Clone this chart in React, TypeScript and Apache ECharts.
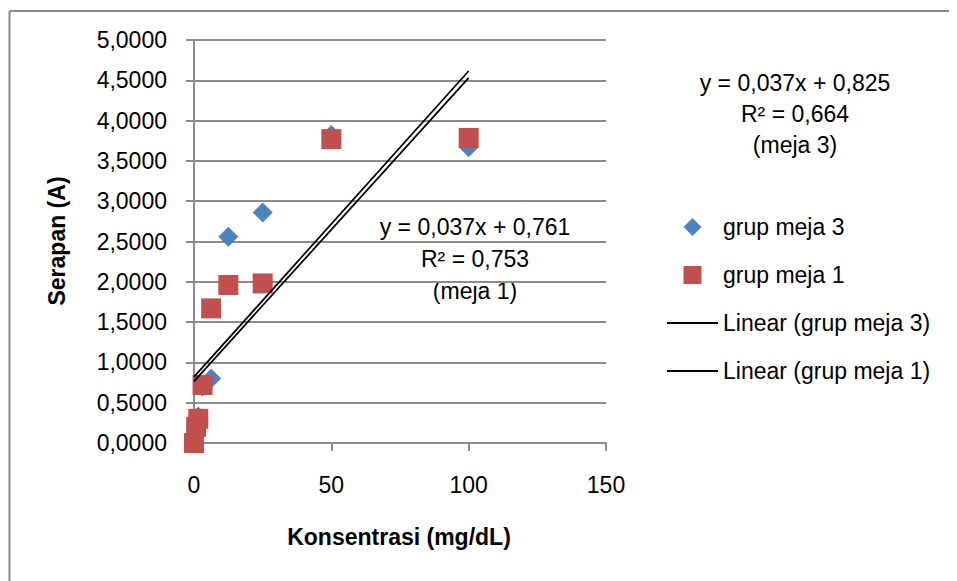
import React, { useEffect, useRef } from "react";
import * as echarts from "echarts";

const xValues = [0, 0.78, 1.5625, 3.125, 6.25, 12.5, 25, 50, 100];
const meja3Values = [0, 0.2, 0.33, 0.7, 0.8, 2.56, 2.86, 3.82, 3.67];
const meja1Values = [0, 0.2, 0.3, 0.72, 1.67, 1.96, 1.98, 3.77, 3.785];
const seriesNames = ["grup meja 3", "grup meja 1", "Linear (grup meja 3)", "Linear (grup meja 1)"];
const xTicks = { min: 0, max: 150, interval: 50 };
const yTicks = { min: 0, max: 5, interval: 0.5 };
const eqMeja3 = ["y = 0,037x + 0,825", "R² = 0,664", "(meja 3)"];
const eqMeja1 = ["y = 0,037x + 0,761", "R² = 0,753", "(meja 1)"];
const xTitle = "Konsentrasi (mg/dL)";
const yTitle = "Serapan (A)";

function regression(xs: number[], ys: number[]) {
  const n = xs.length;
  const mx = xs.reduce((a, b) => a + b, 0) / n;
  const my = ys.reduce((a, b) => a + b, 0) / n;
  let sxy = 0;
  let sxx = 0;
  for (let i = 0; i < n; i++) {
    sxy += (xs[i] - mx) * (ys[i] - my);
    sxx += (xs[i] - mx) * (xs[i] - mx);
  }
  const slope = sxy / sxx;
  return { slope, intercept: my - slope * mx };
}

function trendData(xs: number[], ys: number[]) {
  const { slope, intercept } = regression(xs, ys);
  const x0 = Math.min(...xs);
  const x1 = Math.max(...xs);
  return [
    [x0, intercept + slope * x0],
    [x1, intercept + slope * x1],
  ];
}

const FONT = "'Liberation Sans', Arial, sans-serif";
const GRAY = "#8c8c8c";
const LINE_ICON = "path://M0,0 H51 V2 H0 Z";
const DIAMOND_ICON = "path://M9,0 L18,9 L9,18 L0,9 Z";
const SQUARE_ICON = "path://M0,0 H18 V18 H0 Z";

export default function App() {
  const ref = useRef<HTMLDivElement>(null);
  useEffect(() => {
    if (!ref.current) return;
    document.documentElement.style.overflow = "hidden";
    document.body.style.overflow = "hidden";
    const chart = echarts.init(ref.current, undefined, { renderer: "svg" });
    const pts3 = xValues.map((x, i) => [x, meja3Values[i]]);
    const pts1 = xValues.map((x, i) => [x, meja1Values[i]]);
    chart.setOption({
      animation: false,
      backgroundColor: "#ffffff",
      textStyle: { fontFamily: FONT, color: "#000" },
      grid: { left: 186, right: 351, top: 32, bottom: 138, containLabel: false },
      xAxis: {
        type: "value",
        min: xTicks.min,
        max: xTicks.max,
        interval: xTicks.interval,
        axisLine: { show: true, lineStyle: { color: GRAY, width: 2 } },
        axisTick: { show: true, length: 8, lineStyle: { color: GRAY, width: 2 } },
        splitLine: { show: false },
        axisLabel: { fontSize: 23, color: "#000", fontFamily: FONT, margin: 30 },
      },
      yAxis: {
        type: "value",
        min: yTicks.min,
        max: yTicks.max,
        interval: yTicks.interval,
        axisLine: { show: true, lineStyle: { color: GRAY, width: 2 } },
        axisTick: { show: true, length: 8, lineStyle: { color: GRAY, width: 2 } },
        splitLine: { show: true, lineStyle: { color: GRAY, width: 2 } },
        axisLabel: {
          fontSize: 23,
          color: "#000",
          fontFamily: FONT,
          margin: 27,
          formatter: (v: number) => v.toFixed(4).replace(".", ","),
        },
      },
      legend: {
        orient: "vertical",
        left: 654,
        top: 202,
        padding: 5,
        itemWidth: 51,
        itemHeight: 18,
        itemGap: 24,
        symbolKeepAspect: true,
        textStyle: { fontSize: 23, color: "#000", fontFamily: FONT, lineHeight: 24 },
        data: [
          { name: seriesNames[0], icon: DIAMOND_ICON },
          { name: seriesNames[1], icon: SQUARE_ICON },
          { name: seriesNames[2], icon: LINE_ICON },
          { name: seriesNames[3], icon: LINE_ICON },
        ],
      },
      series: [
        {
          name: seriesNames[0],
          type: "scatter",
          symbol: "diamond",
          symbolSize: 20,
          itemStyle: { color: "#4F81BD", opacity: 1 },
          data: pts3,
        },
        {
          name: seriesNames[1],
          type: "scatter",
          symbol: "rect",
          symbolSize: 20,
          itemStyle: { color: "#C0504D", opacity: 1 },
          data: pts1,
        },
        {
          name: seriesNames[2],
          type: "line",
          symbol: "none",
          lineStyle: { color: "#000", width: 1.75 },
          itemStyle: { color: "#000" },
          data: trendData(xValues, meja3Values),
        },
        {
          name: seriesNames[3],
          type: "line",
          symbol: "none",
          lineStyle: { color: "#000", width: 1.75 },
          itemStyle: { color: "#000" },
          data: trendData(xValues, meja1Values),
        },
      ],
      graphic: [
        {
          type: "rect",
          z: 100,
          shape: { x: 930, y: 0, width: 40, height: 600 },
          style: { fill: "#ffffff" },
          silent: true,
        },
        {
          type: "line",
          z: 101,
          shape: { x1: 1.5, y1: 3, x2: 960, y2: 3 },
          style: { stroke: "#8a8a8a", lineWidth: 2 },
          silent: true,
        },
        {
          type: "line",
          z: 101,
          shape: { x1: 1.5, y1: 3, x2: 1.5, y2: 600 },
          style: { stroke: "#8a8a8a", lineWidth: 2 },
          silent: true,
        },
        {
          type: "text",
          x: 391,
          y: 529,
          style: {
            text: xTitle,
            font: `bold 23px ${FONT}`,
            fill: "#000",
            textAlign: "center",
            textVerticalAlign: "middle",
          },
        },
        {
          type: "text",
          x: 49,
          y: 233,
          rotation: Math.PI / 2,
          style: {
            text: yTitle,
            font: `bold 23px ${FONT}`,
            fill: "#000",
            textAlign: "center",
            textVerticalAlign: "middle",
          },
        },
        {
          type: "text",
          x: 787,
          y: 59,
          style: {
            text: eqMeja3.join("\n"),
            font: `23px ${FONT}`,
            lineHeight: 31,
            fill: "#000",
            textAlign: "center",
            textVerticalAlign: "top",
          },
        },
        {
          type: "text",
          x: 467,
          y: 203,
          style: {
            text: eqMeja1.join("\n"),
            font: `23px ${FONT}`,
            lineHeight: 32,
            fill: "#000",
            textAlign: "center",
            textVerticalAlign: "top",
          },
        },
      ],
    });
    return () => chart.dispose();
  }, []);
  return <div ref={ref} style={{ width: 949, height: 573 }} />;
}
